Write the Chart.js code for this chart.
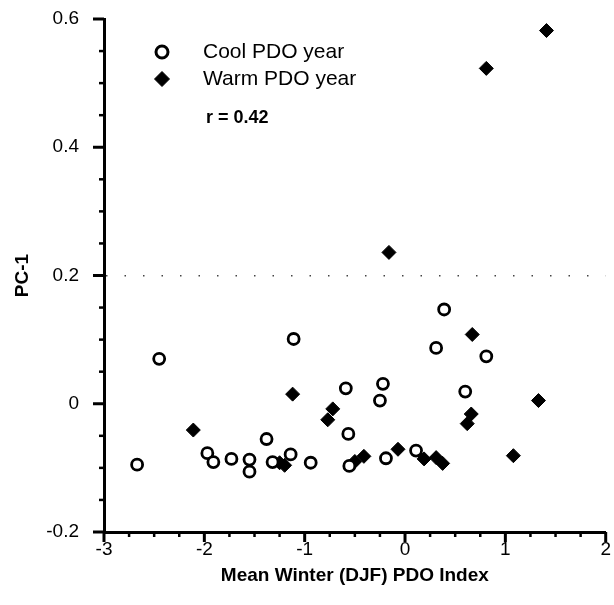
<!DOCTYPE html>
<html>
<head>
<meta charset="utf-8">
<script src="https://cdn.jsdelivr.net/npm/chart.js@4/dist/chart.umd.min.js"></script>
<style>
  html, body { margin: 0; padding: 0; background: #fff; }
  #wrap { width: 614px; height: 605px; }
</style>
</head>
<body>
<div id="wrap"><canvas id="myChart" width="614" height="605"></canvas></div>
<script>
// cool PDO years (open circles)
const coolX = [-2.67, -2.45, -1.97, -1.91, -1.73, -1.55, -1.55, -1.38, -1.32, -1.14, -1.11, -0.94,
               -0.59, -0.565, -0.555, -0.22, -0.25, -0.19, 0.11, 0.31, 0.39, 0.60, 0.81];
const coolY = [-0.095, 0.070, -0.077, -0.091, -0.086, -0.087, -0.106, -0.055, -0.091, -0.079, 0.101, -0.092,
               0.024, -0.047, -0.097, 0.031, 0.005, -0.085, -0.073, 0.087, 0.147, 0.019, 0.074];

// warm PDO years (filled diamonds)
const warmX = [-2.11, -1.25, -1.20, -1.12, -0.72, -0.77, -0.50, -0.41, -0.16, -0.07,
               0.19, 0.31, 0.375, 0.62, 0.66, 0.67, 0.81, 1.08, 1.33, 1.41];
const warmY = [-0.041, -0.092, -0.096, 0.015, -0.008, -0.025, -0.090, -0.082, 0.236, -0.071,
               -0.086, -0.084, -0.093, -0.031, -0.016, 0.108, 0.523, -0.081, 0.005, 0.582];

const legendLabels = ['Cool PDO year', 'Warm PDO year'];
const corrText = 'r = 0.42';
const xTitle = 'Mean Winter (DJF) PDO Index';
const yTitle = 'PC-1';

const FONT = "'Liberation Sans', Arial, sans-serif";

const cool = {
    label: legendLabels[0],
    data: coolX.map((x, i) => ({x: x, y: coolY[i]})),
    pointStyle: 'circle',
    pointRadius: 5.5,
    pointBorderWidth: 2.8,
    borderColor: '#000',
    backgroundColor: '#fff',
};

const warm = {
    label: legendLabels[1],
    data: warmX.map((x, i) => ({x: x, y: warmY[i]})),
    pointStyle: 'rectRot',
    pointRadius: 7,
    pointBorderWidth: 1,
    borderColor: '#000',
    backgroundColor: '#000',
};

// minor / major tick marks drawn outside the axes
const tickMarks = {
    id: 'tickMarks',
    afterDraw(chart) {
        const ctx = chart.ctx;
        const xs = chart.scales.x, ys = chart.scales.y;
        const area = chart.chartArea;
        ctx.save();
        ctx.strokeStyle = '#000';
        for (let k = 0; k <= 20; k++) {
            const v = -3 + k * 0.25;
            const px = xs.getPixelForValue(v);
            const major = k % 4 === 0;
            ctx.lineWidth = major ? 3 : 2.5;
            ctx.beginPath();
            ctx.moveTo(px, area.bottom);
            ctx.lineTo(px, area.bottom + (major ? 10 : 5));
            ctx.stroke();
        }
        for (let k = 0; k <= 16; k++) {
            const v = -0.2 + k * 0.05;
            const py = ys.getPixelForValue(v);
            const major = k % 4 === 0;
            ctx.lineWidth = major ? 3 : 2.5;
            ctx.beginPath();
            ctx.moveTo(area.left, py);
            ctx.lineTo(area.left - (major ? 11 : 5), py);
            ctx.stroke();
        }
        ctx.restore();
    }
};

// legend box and correlation note inside the plot
const innerLegend = {
    id: 'innerLegend',
    afterDraw(chart) {
        const ctx = chart.ctx;
        const h = Chart.helpers;
        ctx.save();
        ctx.strokeStyle = '#000';
        ctx.fillStyle = '#fff';
        ctx.lineWidth = 3;
        h.drawPoint(ctx, {pointStyle: 'circle', radius: 6, borderWidth: 3}, 162, 52);
        ctx.fillStyle = '#000';
        ctx.lineWidth = 1;
        h.drawPoint(ctx, {pointStyle: 'rectRot', radius: 7.5, borderWidth: 1}, 162, 79);
        ctx.fillStyle = '#000';
        ctx.textBaseline = 'middle';
        ctx.textAlign = 'left';
        ctx.font = '21px ' + FONT;
        ctx.fillText(legendLabels[0], 203, 52);
        ctx.fillText(legendLabels[1], 203, 79);
        ctx.font = 'bold 18px ' + FONT;
        ctx.fillText(corrText, 206, 118);
        ctx.restore();
    }
};

const config = {
    type: 'scatter',
    data: {datasets: [cool, warm]},
    options: {
        responsive: false,
        animation: false,
        devicePixelRatio: 1,
        layout: {padding: {top: 19, right: 2, left: 0, bottom: 0}},
        plugins: {legend: {display: false}, tooltip: {enabled: false}},
        scales: {
            x: {
                type: 'linear',
                min: -3, max: 2,
                border: {display: true, color: '#000', width: 3},
                grid: {display: false, drawTicks: false},
                ticks: {
                    stepSize: 1,
                    color: '#000',
                    padding: 6,
                    font: {family: FONT, size: 19},
                    callback: v => Number.isInteger(v) ? String(v) : ''
                },
                title: {
                    display: true, text: xTitle, color: '#000',
                    font: {family: FONT, size: 19, weight: 'bold'},
                    padding: {top: 0, bottom: 18}
                },
                afterFit(s) { s.height = 73; s.paddingLeft = 0; s.paddingRight = 0; }
            },
            y: {
                type: 'linear',
                min: -0.2, max: 0.6,
                border: {display: true, color: '#000', width: 3, dash: [1.5, 17]},
                grid: {
                    drawTicks: false,
                    lineWidth: 1.5,
                    color: c => (c.tick && Math.abs(c.tick.value - 0.2) < 1e-6) ? '#444' : 'rgba(0,0,0,0)'
                },
                ticks: {
                    stepSize: 0.2,
                    color: '#000',
                    padding: 25,
                    font: {family: FONT, size: 19},
                    callback: v => Math.abs(v) < 1e-9 ? '0' : (Math.round(v * 10) / 10).toFixed(1)
                },
                title: {
                    display: true, text: yTitle, color: '#000',
                    font: {family: FONT, size: 19, weight: 'bold'},
                    padding: {top: 11, bottom: 0}
                },
                afterFit(s) { s.width = 104; s.paddingTop = 0; s.paddingBottom = 0; }
            }
        }
    },
    plugins: [tickMarks, innerLegend]
};

const myChart = new Chart(document.getElementById('myChart'), config);
</script>
</body>
</html>
